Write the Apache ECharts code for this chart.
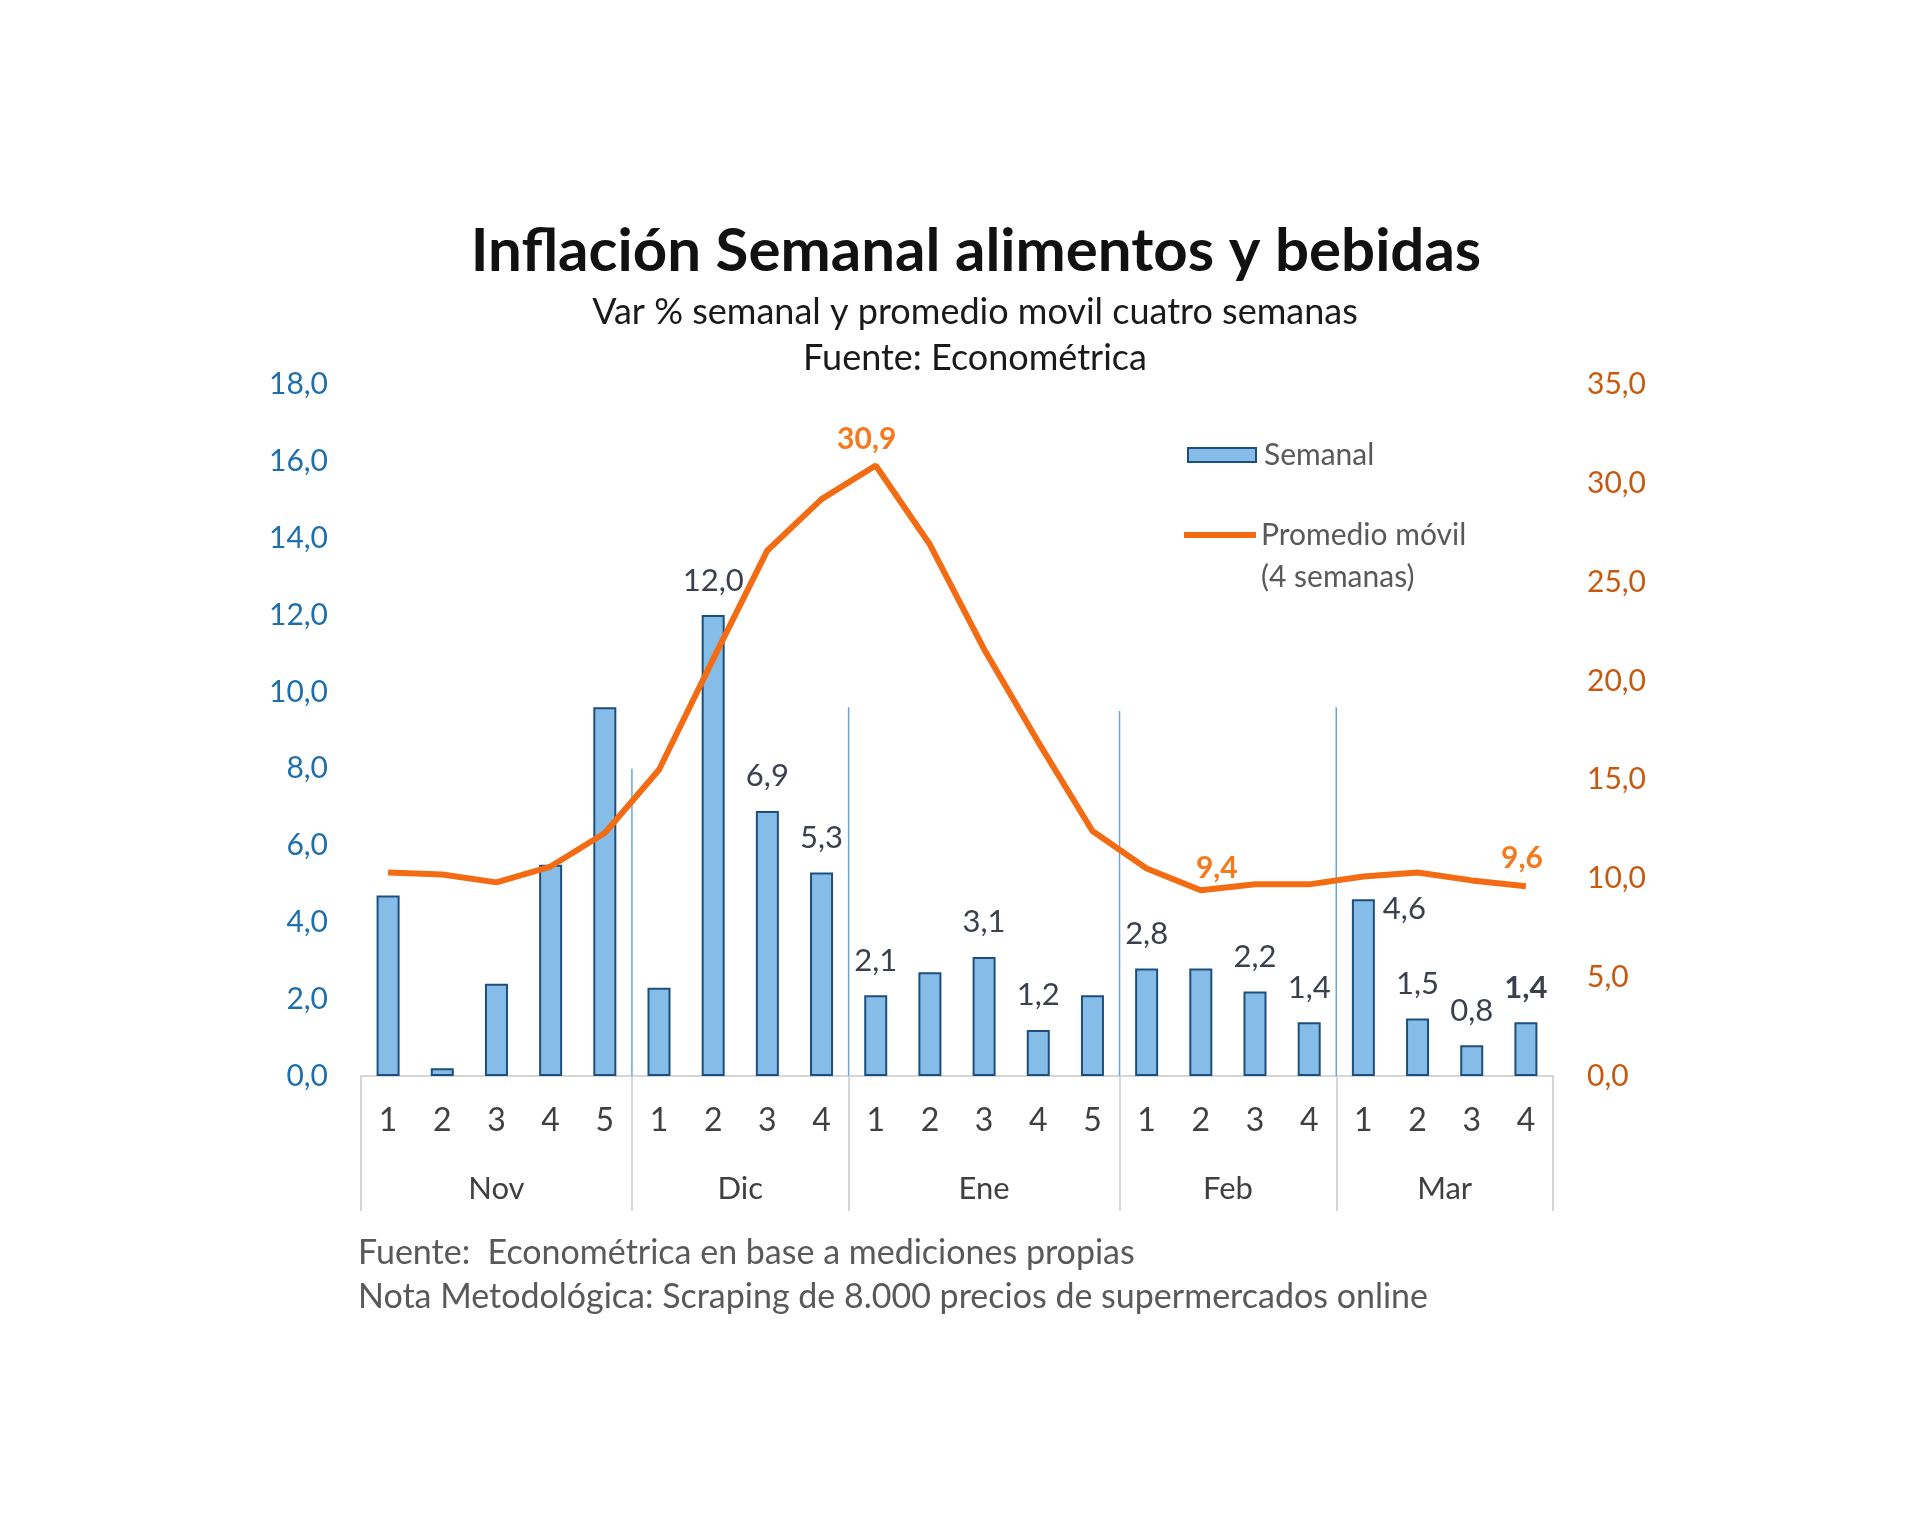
<!DOCTYPE html>
<html><head><meta charset="utf-8">
<script src="https://cdn.jsdelivr.net/npm/echarts@6/dist/echarts.min.js"></script>
<style>html,body{margin:0;padding:0;background:#fff}#c{width:1920px;height:1515px}</style>
</head><body><div id="c"></div>
<script>
// ---- data ----
const weeks = ['1','2','3','4','5','1','2','3','4','1','2','3','4','5','1','2','3','4','1','2','3','4'];
const months = ['Nov','Dic','Ene','Feb','Mar'];
const monthWeekCounts = [5,4,5,4,4];
const semanal = [4.7,0.2,2.4,5.5,9.6,2.3,12.0,6.9,5.3,2.1,2.7,3.1,1.2,2.1,2.8,2.8,2.2,1.4,4.6,1.5,0.8,1.4];
const promedio = [10.3,10.2,9.8,10.6,12.3,15.5,21.1,26.6,29.2,30.9,26.9,21.6,16.9,12.4,10.5,9.4,9.7,9.7,10.1,10.3,9.9,9.6];
const semanalLabeled = [6,7,8,9,11,12,14,16,17,18,19,20,21];
const promedioLabeled = [9,15,21];
const separatorHeights = [8.0,9.6,9.5,9.6];
const leftAxis = {min:0, max:18, step:2};
const rightAxis = {min:0, max:35, step:5};
const titleText = 'Inflación Semanal alimentos y bebidas';
const subtitleText = 'Var % semanal y promedio movil cuatro semanas';
const sourceText = 'Fuente: Econométrica';
const legendNote = '(4 semanas)';
const footerText = 'Fuente:  Econométrica en base a mediciones propias\nNota Metodológica: Scraping de 8.000 precios de supermercados online';

// ---- derived ----
const FONT = 'Lato';
const fmt = v => Number(v).toFixed(1).replace('.', ',');
const monthStarts = [];
const monthMid = {};
let acc = 0;
monthWeekCounts.forEach((n, i) => { monthStarts.push(acc); monthMid[(acc + n / 2).toFixed(1)] = months[i]; acc += n; });
const totalWeeks = acc;
const sepData = monthStarts.slice(1).map((s, i) => [s, separatorHeights[i]]);

const barData = semanal.map((v, i) => {
  const item = {value: v};
  if (semanalLabeled.includes(i)) {
    item.label = {show: true};
    if (i === 18) item.label = {show: true, position: ['100%', 0], align: 'left', verticalAlign: 'top', distance: 0, offset: [8, -6]};
    if (i === 21) item.label.fontWeight = 'bold';
  }
  return item;
});
const lineLabelShift = {9: [-9, 5], 15: [16, 9], 21: [-4, 3]};
const lineData = promedio.map((v, i) => promedioLabeled.includes(i)
  ? {value: v, label: {show: true, offset: lineLabelShift[i] || [0, 0]}} : v);

const chart = echarts.init(document.getElementById('c'), null, {renderer: 'canvas'});
chart.setOption({
  backgroundColor: '#ffffff',
  animation: false,
  textStyle: {fontFamily: FONT},
  title: [
    {text: titleText, left: 971, top: 217, textAlign: 'center',
     textStyle: {fontFamily: FONT, fontSize: 60, fontWeight: 'bold', color: '#111111', lineHeight: 60}},
    {text: subtitleText, left: 970, top: 287, textAlign: 'center',
     textStyle: {fontFamily: FONT, fontSize: 36, fontWeight: 'normal', color: '#1a1a1a', lineHeight: 40}},
    {text: sourceText, left: 970, top: 333, textAlign: 'center',
     textStyle: {fontFamily: FONT, fontSize: 36, fontWeight: 'normal', color: '#1a1a1a', lineHeight: 40}},
    {text: footerText, left: 353, top: 1226,
     textStyle: {fontFamily: FONT, fontSize: 34, fontWeight: 'normal', color: '#595959', lineHeight: 44}}
  ],
  legend: [
    {data: [{name: 'Semanal', icon: 'rect'}], orient: 'vertical', left: 1187, top: 434, padding: 0,
     itemWidth: 68, itemHeight: 14, itemGap: 0,
     textStyle: {fontFamily: FONT, fontSize: 30, color: '#595959', lineHeight: 42, padding: [0,0,0,3]}},
    {data: [{name: 'Promedio móvil', icon: 'rect'}], orient: 'vertical', left: 1184, top: 472, padding: 0,
     itemWidth: 72, itemHeight: 6, itemGap: 0,
     formatter: n => ' \n' + n + '\n' + legendNote,
     textStyle: {fontFamily: FONT, fontSize: 30, color: '#595959', lineHeight: 42}}
  ],
  grid: {left: 361, right: 367, top: 384.5, bottom: 439, containLabel: false},
  xAxis: [
    {type: 'category', data: weeks, position: 'bottom', boundaryGap: true,
     axisLine: {show: true, lineStyle: {color: '#d6d6d6', width: 2}},
     axisTick: {show: true, alignWithLabel: false, interval: (idx) => monthStarts.includes(idx), length: 135,
                lineStyle: {color: '#d6d6d6', width: 2}},
     axisLabel: {interval: 0, margin: 29, fontFamily: FONT, fontSize: 32, color: '#404040'},
     splitLine: {show: false}},
    {type: 'value', min: 0, max: totalWeeks, interval: 0.5, position: 'bottom',
     axisLine: {show: false}, axisTick: {show: false}, splitLine: {show: false},
     axisLabel: {margin: 97, fontFamily: FONT, fontSize: 31, color: '#404040',
                 formatter: v => monthMid[Number(v).toFixed(1)] || ''}}
  ],
  yAxis: [
    {type: 'value', min: leftAxis.min, max: leftAxis.max, interval: leftAxis.step, position: 'left',
     axisLine: {show: false}, axisTick: {show: false}, splitLine: {show: false},
     axisLabel: {margin: 33, fontFamily: FONT, fontSize: 30, color: '#1f6fad', formatter: fmt}},
    {type: 'value', min: rightAxis.min, max: rightAxis.max, interval: rightAxis.step, position: 'right',
     axisLine: {show: false}, axisTick: {show: false}, splitLine: {show: false},
     axisLabel: {margin: 34, fontFamily: FONT, fontSize: 30, color: '#c55a11', formatter: fmt}}
  ],
  series: [
    {type: 'custom', name: 'sep', xAxisIndex: 1, yAxisIndex: 0, data: sepData, silent: true, clip: false,
     renderItem: (params, api) => {
       const p0 = api.coord([api.value(0), 0]);
       const p1 = api.coord([api.value(0), api.value(1)]);
       return {type: 'line', shape: {x1: p0[0], y1: p0[1], x2: p1[0], y2: p1[1]},
               style: {stroke: '#6aa6d3', lineWidth: 1.5}};
     }},
    {type: 'bar', name: 'Semanal', xAxisIndex: 0, yAxisIndex: 0, data: barData, barWidth: 23,
     itemStyle: {color: '#86bde8', borderColor: '#1d4f7c', borderWidth: 2},
     label: {show: false, position: 'top', distance: 19, fontFamily: FONT, fontSize: 31, color: '#3a404c',
             formatter: p => fmt(p.value)}},
    {type: 'line', name: 'Promedio móvil', xAxisIndex: 0, yAxisIndex: 1, data: lineData,
     symbol: 'circle', symbolSize: 0.1, showSymbol: true,
     lineStyle: {color: '#f36c13', width: 6}, itemStyle: {color: '#f36c13'},
     label: {show: false, position: 'top', distance: 16, fontFamily: FONT, fontSize: 30, fontWeight: 'bold',
             color: '#f47a20', formatter: p => fmt(p.value)}}
  ]
});
</script></body></html>
